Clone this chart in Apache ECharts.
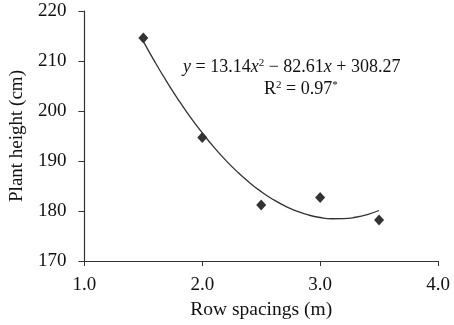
<!DOCTYPE html>
<html>
<head>
<meta charset="utf-8">
<script src="https://cdn.jsdelivr.net/npm/echarts@6/dist/echarts.min.js"></script>
<style>
  html, body { margin: 0; padding: 0; background: #fff; }
  #chart { width: 454px; height: 325px; }
</style>
</head>
<body>
<div id="chart"></div>
<script>
// measured points
const rowSpacing = [1.5, 2.0, 2.5, 3.0, 3.5]
const plantHeight = [214.6, 194.7, 181.2, 182.7, 178.2]

// printed fit: y = a x^2 + b x + c
const fitCoef = [13.14, -82.61, 308.27]
const fitX = [1.5, 1.6, 1.7, 1.8, 1.9, 2.0, 2.1, 2.2, 2.3, 2.4, 2.5, 2.6, 2.7, 2.8, 2.9, 3.0, 3.1, 3.2, 3.3, 3.4, 3.5]

const xTicks = ['1.0', '2.0', '3.0', '4.0']
const yTicks = [170, 180, 190, 200, 210, 220]

const font = '"Liberation Serif", "Times New Roman", serif'

const fitLine = fitX.map(x => [x, fitCoef[0] * x * x + fitCoef[1] * x + fitCoef[2]])
const points = rowSpacing.map((x, i) => [x, plantHeight[i]])

const chart = echarts.init(document.getElementById('chart'))

const option = {
  backgroundColor: '#fff',
  animation: false,
  grid: {
    left: 80,
    right: 16,
    top: 11,
    bottom: 63
  },
  xAxis: {
    type: 'value',
    min: 1,
    max: 4,
    interval: 1,
    name: 'Row spacings (m)',
    nameLocation: 'middle',
    nameGap: 39,
    nameTextStyle: { fontFamily: font, fontSize: 19.5, color: '#111' },
    axisLine: { lineStyle: { color: '#333', width: 1.2 } },
    axisTick: { show: true, length: 5, lineStyle: { color: '#333' } },
    axisLabel: {
      fontFamily: font,
      fontSize: 19,
      color: '#111',
      margin: 15,
      formatter: v => xTicks[Math.round(v - 1)]
    },
    splitLine: { show: false }
  },
  yAxis: {
    type: 'value',
    min: yTicks[0],
    max: yTicks[yTicks.length - 1],
    interval: 10,
    name: 'Plant height (cm)',
    nameLocation: 'middle',
    nameGap: 57,
    nameTextStyle: { fontFamily: font, fontSize: 19, color: '#111' },
    axisLine: { show: true, lineStyle: { color: '#333', width: 1.2 } },
    axisTick: { show: true, length: 6, lineStyle: { color: '#333' } },
    axisLabel: { fontFamily: font, fontSize: 19, color: '#111', margin: 18 },
    splitLine: { show: false }
  },
  graphic: [
    {
      type: 'text',
      left: 183,
      top: 58,
      style: {
        text: '{i|y} = 13.14{i|x}{sup|2} − 82.61{i|x} + 308.27',
        fontFamily: font,
        fontSize: 18,
        fill: '#111',
        rich: {
          i: { fontFamily: font, fontSize: 18, fontStyle: 'italic', fill: '#111' },
          sup: { fontFamily: font, fontSize: 11, fill: '#111', verticalAlign: 'top', padding: [0, 0, 8, 0] }
        }
      }
    },
    {
      type: 'text',
      left: 264,
      top: 80,
      style: {
        text: 'R{sup|2} = 0.97{sup|*}',
        fontFamily: font,
        fontSize: 18,
        fill: '#111',
        rich: {
          sup: { fontFamily: font, fontSize: 11, fill: '#111', verticalAlign: 'top', padding: [0, 0, 8, 0] }
        }
      }
    }
  ],
  series: [
    {
      type: 'line',
      data: fitLine,
      smooth: true,
      showSymbol: false,
      lineStyle: { color: '#333', width: 1.3 },
      silent: true
    },
    {
      type: 'scatter',
      data: points,
      symbol: 'diamond',
      symbolSize: [10, 11],
      itemStyle: { color: '#000' }
    }
  ]
}

chart.setOption(option)
</script>
</body>
</html>
